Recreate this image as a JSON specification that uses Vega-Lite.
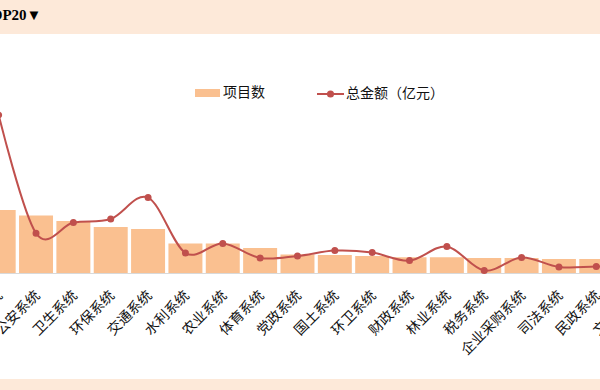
{
  "$schema": "https://vega.github.io/schema/vega-lite/v6.json",
  "width": 747,
  "height": 345,
  "autosize": {"type": "none"},
  "padding": {"left": -20, "top": 34, "right": 0, "bottom": 11},
  "background": "#FDE9D9",
  "title": {"text": "TOP20▼", "anchor": "start", "frame": "group", "font": "Liberation Serif, Noto Sans CJK SC", "fontWeight": "bold", "fontSize": 15, "color": "#000", "dx": 1, "dy": 14, "offset": 13, "baseline": "alphabetic"},
  "data": {"values": [
    {"系统": "教育系统", "项目数": 630, "总金额": 79},
    {"系统": "公安系统", "项目数": 575, "总金额": 19.9},
    {"系统": "卫生系统", "项目数": 520, "总金额": 25.2},
    {"系统": "环保系统", "项目数": 460, "总金额": 27},
    {"系统": "交通系统", "项目数": 440, "总金额": 37.7},
    {"系统": "水利系统", "项目数": 295, "总金额": 10},
    {"系统": "农业系统", "项目数": 295, "总金额": 14.8},
    {"系统": "体育系统", "项目数": 250, "总金额": 7.5},
    {"系统": "党政系统", "项目数": 185, "总金额": 8.5},
    {"系统": "国土系统", "项目数": 180, "总金额": 11.2},
    {"系统": "环卫系统", "项目数": 170, "总金额": 10.2},
    {"系统": "财政系统", "项目数": 158, "总金额": 6.2},
    {"系统": "林业系统", "项目数": 158, "总金额": 13.2},
    {"系统": "税务系统", "项目数": 150, "总金额": 1.2},
    {"系统": "企业采购系统", "项目数": 150, "总金额": 7.7},
    {"系统": "司法系统", "项目数": 140, "总金额": 3},
    {"系统": "民政系统", "项目数": 140, "总金额": 3.2},
    {"系统": "文化系统", "项目数": 135, "总金额": 3.3},
    {"系统": "气象系统", "项目数": 130, "总金额": 2.8},
    {"系统": "统计系统", "项目数": 125, "总金额": 2.5}
  ]},
  "encoding": {
    "x": {
      "field": "系统", "type": "nominal", "sort": null,
      "scale": {"paddingInner": 0.09, "paddingOuter": 0.045},
      "axis": {"title": null, "labelAngle": -45, "labelFont": "Noto Sans CJK SC", "labelFontSize": 14, "labelColor": "#111", "ticks": false, "domainColor": "#d9d9d9", "offset": -106, "labelPadding": 15, "labelOffset": -3, "grid": false, "labelOverlap": false}
    }
  },
  "layer": [
    {
      "mark": {"type": "bar", "color": "#FAC090"},
      "encoding": {
        "y": {"field": "项目数", "type": "quantitative", "scale": {"domain": [-1060, 2390]}, "axis": null},
        "y2": {"datum": 0},
        "fill": {"datum": "项目数", "type": "nominal", "scale": {"range": ["#FAC090"]},
          "legend": {"title": null, "orient": "none", "legendX": 215, "legendY": 46.5, "direction": "horizontal", "padding": 0, "symbolType": "M-1,-0.32H1V0.32H-1Z", "symbolSize": 625, "symbolStrokeWidth": 0, "labelFont": "Noto Sans CJK SC", "labelFontSize": 14, "labelColor": "#111", "labelOffset": 3}}
      }
    },
    {
      "mark": {"type": "line", "interpolate": "cardinal", "strokeWidth": 2, "point": {"filled": true, "size": 25, "color": "#C0504D"}},
      "encoding": {
        "y": {"field": "总金额", "type": "quantitative", "scale": {"domain": [-53, 119.5]}, "axis": null},
        "stroke": {"datum": "总金额（亿元）", "type": "nominal", "scale": {"range": ["#C0504D"]},
          "legend": {"title": null, "orient": "none", "legendX": 336, "legendY": 45.5, "direction": "horizontal", "padding": 0, "symbolType": "M-1,0H1M-0.19,0A0.19,0.19,0,1,1,0.19,0A0.19,0.19,0,1,1,-0.19,0Z", "symbolSize": 729, "symbolStrokeWidth": 2, "symbolFillColor": "#C0504D", "labelFont": "Noto Sans CJK SC", "labelFontSize": 14, "labelColor": "#111", "labelOffset": 1,
            "encode": {"symbols": {"update": {"fill": {"value": "#C0504D"}, "stroke": {"value": "#C0504D"}}}}}}
      }
    }
  ],
  "resolve": {"scale": {"y": "independent"}},
  "config": {"view": {"fill": "white", "stroke": null}}
}
